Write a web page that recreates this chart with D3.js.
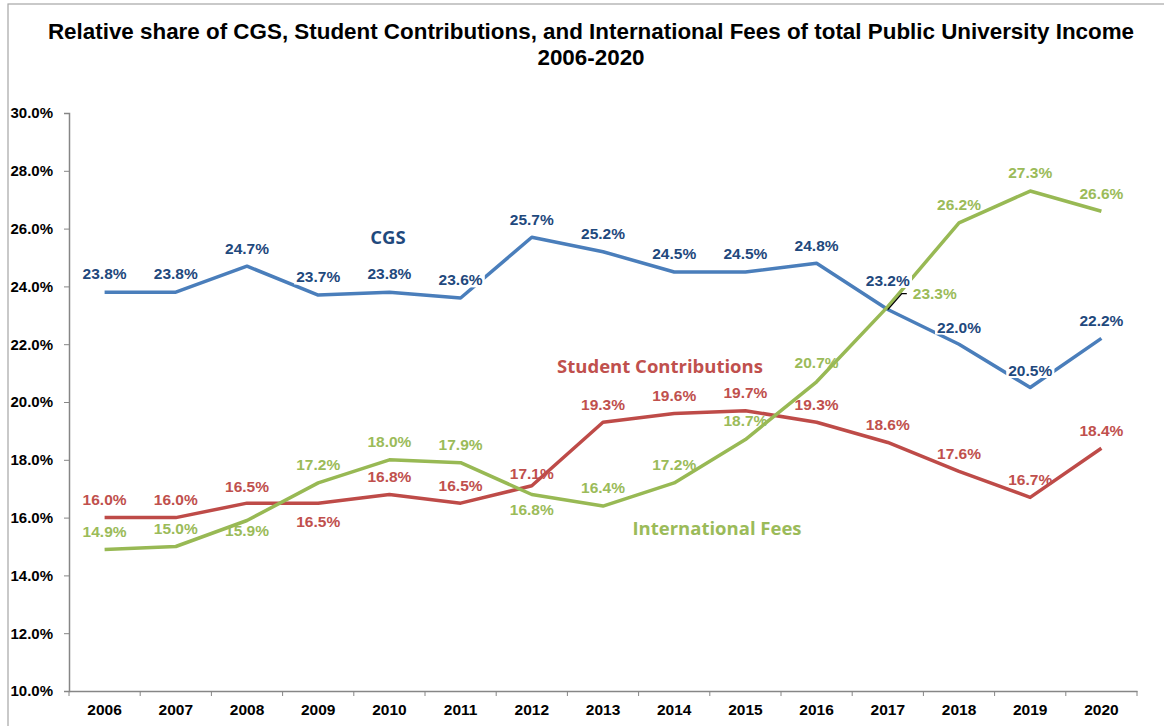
<!DOCTYPE html>
<html>
<head>
<meta charset="utf-8">
<script src="https://cdn.jsdelivr.net/npm/d3@7"></script>
<style>
  body { margin: 0; background: #fff; }
  svg { display: block; font-family: "Liberation Sans", Arial, sans-serif; }
</style>
</head>
<body>
<div id="chart"></div>
<script>
// data
const years = ["2006", "2007", "2008", "2009", "2010", "2011", "2012", "2013", "2014", "2015", "2016", "2017", "2018", "2019", "2020"];
const cgs = [23.8, 23.8, 24.7, 23.7, 23.8, 23.6, 25.7, 25.2, 24.5, 24.5, 24.8, 23.2, 22.0, 20.5, 22.2];
const studentContrib = [16.0, 16.0, 16.5, 16.5, 16.8, 16.5, 17.1, 19.3, 19.6, 19.7, 19.3, 18.6, 17.6, 16.7, 18.4];
const intlFees = [14.9, 15.0, 15.9, 17.2, 18.0, 17.9, 16.8, 16.4, 17.2, 18.7, 20.7, 23.3, 26.2, 27.3, 26.6];
const yTicks = [10, 12, 14, 16, 18, 20, 22, 24, 26, 28, 30];

function main() {
    const width = 1164;
    const height = 726;

    const svg = d3.select("#chart")
        .append("svg")
        .attr("width", width)
        .attr("height", height)

    // outer frame
    svg.append("rect")
        .attr("x", 8).attr("y", 4)
        .attr("width", 1160).attr("height", 740)
        .attr("fill", "none")
        .attr("stroke", "#a6a6a6")
        .attr("stroke-width", 1.2)

    // title
    const title = svg.append("text")
        .attr("text-anchor", "middle")
        .attr("font-weight", "bold")
        .attr("font-size", 22.4)
        .attr("fill", "#000")
    title.append("tspan").attr("x", 591).attr("y", 39).text("Relative share of CGS, Student Contributions, and International Fees of total Public University Income")
    title.append("tspan").attr("x", 591).attr("y", 65).text("2006-2020")

    const x = d3.scaleBand().domain(years).range([69, 1137]).padding(0)
    const y = d3.scaleLinear().domain([10, 30]).range([691, 113])
    const cx = d => x(d) + x.bandwidth() / 2

    // y axis
    const yAxis = svg.append("g")
        .attr("transform", "translate(69,0)")
        .call(d3.axisLeft(y).tickValues(yTicks).tickSize(5).tickPadding(11).tickFormat(d => d.toFixed(1) + "%"))
    yAxis.selectAll("text").attr("font-size", 15).attr("font-weight", "bold").attr("fill", "#000").attr("font-family", "Liberation Sans, Arial, sans-serif")
    yAxis.selectAll("line").attr("stroke", "#868686")
    yAxis.select(".domain").attr("stroke", "#868686").attr("stroke-width", 1.5)

    // x axis: labels at category centres, ticks at category edges
    const xAxis = svg.append("g")
        .attr("transform", "translate(0,691)")
        .call(d3.axisBottom(x).tickSize(0).tickPadding(13))
    xAxis.selectAll("text").attr("font-size", 15.5).attr("font-weight", "bold").attr("fill", "#000").attr("font-family", "Liberation Sans, Arial, sans-serif")
    xAxis.select(".domain").attr("stroke", "#868686").attr("stroke-width", 1.5)
    const edges = years.map(d => x(d)).concat([x.range()[1]])
    xAxis.selectAll(".edge")
        .data(edges)
        .join("line")
        .attr("class", "edge")
        .attr("x1", d => d).attr("x2", d => d)
        .attr("y1", 0).attr("y2", 5)
        .attr("stroke", "#868686")

    const series = [
        { name: "CGS", values: cgs, line: "#4a7ebb", text: "#1f497d", bg: true },
        { name: "Student Contributions", values: studentContrib, line: "#be4b48", text: "#c0504d", bg: false },
        { name: "International Fees", values: intlFees, line: "#98b954", text: "#9bbb59", bg: false }
    ]

    // label placement: vertical offset of label centre from its point (px)
    const labelDy = {
        "CGS": [-19, -19, -18, -18, -19, -18, -18, -18, -18, -18, -18, -29, -17, -17, -18],
        "Student Contributions": [-18, -18, -17, 18, -18, -18, -12, -18, -18, -18, -18, -18, -18, -18, -18],
        "International Fees": [-18, -18, 10, -18, -18, -18, 15, -18, -18, -19, -19, null, -18, -18, -18]
    }

    const line = d3.line()
        .x((d, i) => cx(years[i]))
        .y(d => y(d))

    series.forEach(s => {
        svg.append("path")
            .datum(s.values)
            .attr("d", line)
            .attr("fill", "none")
            .attr("stroke", s.line)
            .attr("stroke-width", 3.5)
            .attr("stroke-linejoin", "round")
    })

    // data labels
    series.forEach(s => {
        const g = svg.append("g")
        s.values.forEach((v, i) => {
            let dy = labelDy[s.name][i]
            let lx = cx(years[i])
            let ly = y(v)
            if (dy === null) {
                // label to the right with leader line
                svg.append("path")
                    .attr("d", `M${lx},${ly + 3}L${lx + 14},${ly - 13}L${lx + 19},${ly - 13}`)
                    .attr("fill", "none")
                    .attr("stroke", "#000")
                    .attr("stroke-width", 1.3)
                lx = lx + 47
                ly = ly - 13
            } else {
                ly = ly + dy
            }
            const t = g.append("text")
                .attr("x", lx)
                .attr("y", ly)
                .attr("dy", "0.35em")
                .attr("text-anchor", "middle")
                .attr("font-size", 15.5)
                .attr("font-weight", "bold")
                .attr("fill", s.text)
                .text(v.toFixed(1) + "%")
            if (s.bg) {
                const b = t.node().getBBox()
                g.insert("rect", "text")
                    .attr("x", b.x - 2).attr("y", b.y + 1)
                    .attr("width", b.width + 4).attr("height", b.height - 2)
                    .attr("fill", "#fff")
            }
        })
    })

    // series names
    const names = [
        { text: "CGS", x: 388, y: 238, color: "#1f497d" },
        { text: "Student Contributions", x: 660, y: 367, color: "#c0504d" },
        { text: "International Fees", x: 717, y: 529, color: "#9bbb59" }
    ]
    svg.selectAll(".sname")
        .data(names)
        .join("text")
        .attr("class", "sname")
        .attr("x", d => d.x)
        .attr("y", d => d.y)
        .attr("dy", "0.35em")
        .attr("text-anchor", "middle")
        .attr("font-family", "Open Sans, sans-serif")
        .attr("font-weight", "bold")
        .attr("font-size", 18.5)
        .attr("fill", d => d.color)
        .text(d => d.text)
}
main();
</script>
</body>
</html>
